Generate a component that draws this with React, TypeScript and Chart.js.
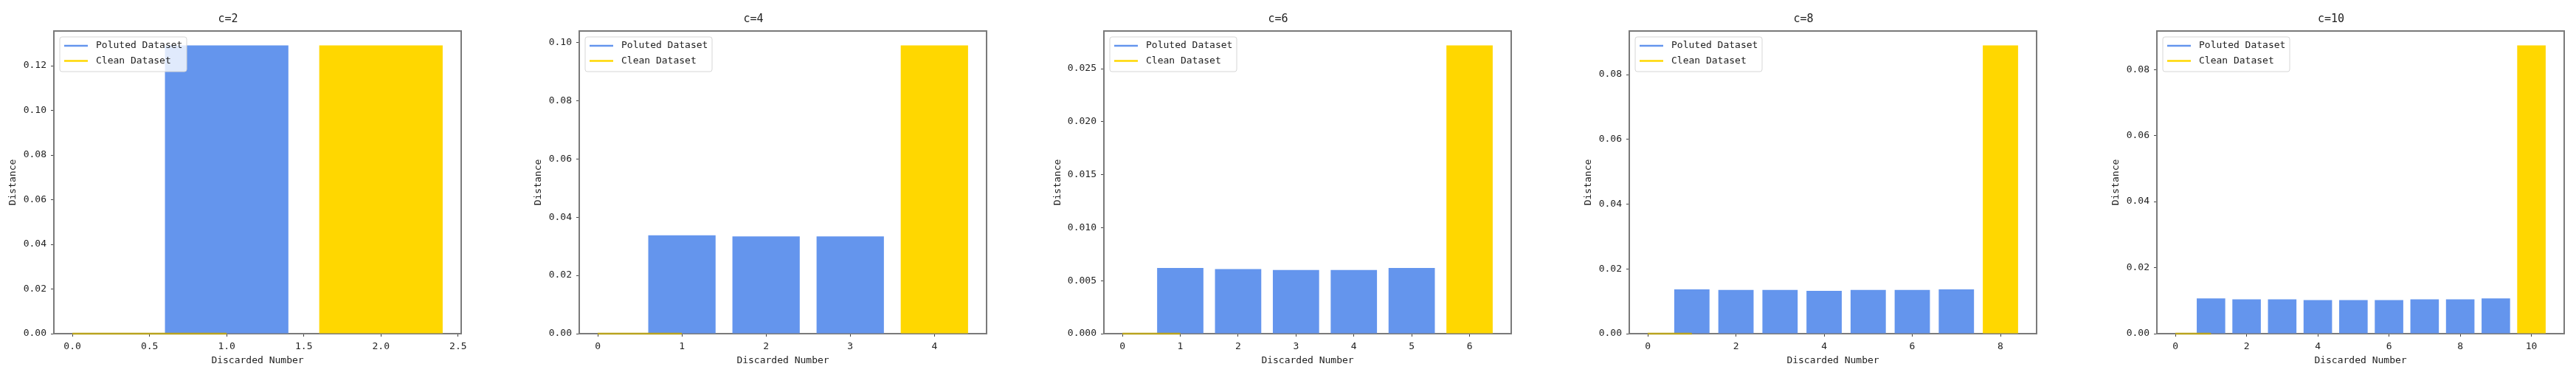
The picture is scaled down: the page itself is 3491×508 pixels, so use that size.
import React, { useEffect, useRef } from "react";
import { Chart, registerables } from "chart.js";

Chart.register(...registerables);

// ---------------- data ----------------
const TITLES = ["c=2", "c=4", "c=6", "c=8", "c=10"];
const C_VALUES = [2, 4, 6, 8, 10];

const POLLUTED_C2 = [0.1291];
const POLLUTED_C4 = [0.0338, 0.0334, 0.0334];
const POLLUTED_C6 = [0.0062, 0.0061, 0.006, 0.006, 0.0062];
const POLLUTED_C8 = [0.0137, 0.0135, 0.0135, 0.0132, 0.0135, 0.0135, 0.0137];
const POLLUTED_C10 = [0.0107, 0.0104, 0.0104, 0.0102, 0.0102, 0.0102, 0.0104, 0.0104, 0.0107];
const POLLUTED = [POLLUTED_C2, POLLUTED_C4, POLLUTED_C6, POLLUTED_C8, POLLUTED_C10];

const CLEAN = [0.1291, 0.099, 0.0272, 0.089, 0.0873];

const BASELINE_X = [0, 1];
const BASELINE_Y = [0, 0];

const X_TICK_STEPS = [0.5, 1, 1, 2, 2];
const X_DECIMALS = [1, 0, 0, 0, 0];
const Y_TICK_STEPS = [0.02, 0.02, 0.005, 0.02, 0.02];
const Y_DECIMALS = [2, 2, 3, 2, 2];

const LEGEND_LABELS = ["Poluted Dataset", "Clean Dataset"];
const X_TITLE = "Discarded Number";
const Y_TITLE = "Distance";

// ---------------- styles / layout ----------------
const BLUE = "#6495ED";
const GOLD = "#FFD700";
const OLIVE = "#b9a31f";
const TEXT = "#222222";
const FONT = "'DejaVu Sans Mono', monospace";
const BAR_WIDTH = 0.8;

const FRAME_LEFTS = [73, 785, 1496, 2208, 2923];
const Y_AXIS_W = 80;
const PLOT_W = 552;
const RIGHT_PAD = 15;
const Y_TITLE_PADS = [17, 17, 10, 17, 17];

const framePlugin = {
  id: "frame",
  beforeDatasetsDraw(chart: any) {
    const { ctx, chartArea } = chart;
    ctx.save();
    ctx.strokeStyle = "#7a7a7a";
    ctx.lineWidth = 2;
    ctx.strokeRect(chartArea.left, chartArea.top, chartArea.right - chartArea.left, chartArea.bottom - chartArea.top);
    ctx.restore();
  },
};

const legendPlugin = {
  id: "mplLegend",
  afterDraw(chart: any) {
    const { ctx, chartArea } = chart;
    const x = chartArea.left + 8;
    const y = chartArea.top + 8;
    const w = 172;
    const h = 47;
    const r = 3;
    ctx.save();
    ctx.beginPath();
    ctx.moveTo(x + r, y);
    ctx.lineTo(x + w - r, y);
    ctx.quadraticCurveTo(x + w, y, x + w, y + r);
    ctx.lineTo(x + w, y + h - r);
    ctx.quadraticCurveTo(x + w, y + h, x + w - r, y + h);
    ctx.lineTo(x + r, y + h);
    ctx.quadraticCurveTo(x, y + h, x, y + h - r);
    ctx.lineTo(x, y + r);
    ctx.quadraticCurveTo(x, y, x + r, y);
    ctx.closePath();
    ctx.fillStyle = "rgba(255,255,255,0.8)";
    ctx.fill();
    ctx.strokeStyle = "#d6d6d6";
    ctx.lineWidth = 1;
    ctx.stroke();
    const colors = [BLUE, GOLD];
    ctx.font = `13px ${FONT}`;
    ctx.textBaseline = "middle";
    ctx.textAlign = "left";
    LEGEND_LABELS.forEach((label, i) => {
      const ly = y + 12 + i * 20.5;
      ctx.strokeStyle = colors[i];
      ctx.lineWidth = 2.5;
      ctx.beginPath();
      ctx.moveTo(x + 6, ly);
      ctx.lineTo(x + 38, ly);
      ctx.stroke();
      ctx.fillStyle = TEXT;
      ctx.fillText(label, x + 49, ly);
    });
    ctx.restore();
  },
};

function SubChart({ idx }: { idx: number }) {
  const ref = useRef<HTMLCanvasElement | null>(null);
  useEffect(() => {
    if (!ref.current) return;
    const c = C_VALUES[idx];
    const polluted = POLLUTED[idx];
    const clean = CLEAN[idx];
    const extent = c + BAR_WIDTH / 2;
    const xMin = -0.05 * extent;
    const xMax = extent * 1.05;
    const yMax = Math.max(clean, ...polluted) * 1.05;
    const xStep = X_TICK_STEPS[idx];
    const barPct = BAR_WIDTH / Math.min(1, xStep);

    const chart = new Chart(ref.current, {
      type: "bar",
      data: {
        datasets: [
          {
            type: "line",
            label: LEGEND_LABELS[1] + " line",
            data: BASELINE_X.map((x, i) => ({ x, y: BASELINE_Y[i] })),
            borderColor: OLIVE,
            borderWidth: 2.5,
            pointRadius: 0,
            order: 0,
            clip: 3,
          } as any,
          {
            type: "bar",
            label: LEGEND_LABELS[0],
            data: polluted.map((v, i) => ({ x: i + 1, y: v })),
            backgroundColor: BLUE,
            borderWidth: 0,
            grouped: false,
            barPercentage: barPct,
            categoryPercentage: 1,
            order: 2,
          } as any,
          {
            type: "bar",
            label: LEGEND_LABELS[1],
            data: [{ x: c, y: clean }],
            backgroundColor: GOLD,
            borderWidth: 0,
            grouped: false,
            barPercentage: barPct,
            categoryPercentage: 1,
            order: 2,
          } as any,
        ],
      },
      options: {
        responsive: false,
        animation: false,
        layout: { autoPadding: false, padding: { left: 0, right: RIGHT_PAD, top: 0, bottom: 0 } } as any,
        plugins: {
          legend: { display: false },
          tooltip: { enabled: false },
          title: {
            display: true,
            text: TITLES[idx],
            color: TEXT,
            font: { family: FONT, size: 15, weight: "normal" },
            padding: { top: 17, bottom: 7 },
          },
        },
        scales: {
          x: {
            type: "linear",
            position: "bottom",
            offset: false,
            min: xMin,
            max: xMax,
            border: { display: false },
            grid: { offset: false, drawOnChartArea: false, drawTicks: true, tickLength: 4, color: "#444" },
            ticks: {
              stepSize: xStep,
              includeBounds: false,
              autoSkip: false,
              maxRotation: 0,
              padding: 6,
              color: TEXT,
              font: { family: FONT, size: 13 },
              callback: (v: any) => Number(v).toFixed(X_DECIMALS[idx]),
            } as any,
            title: {
              display: true,
              text: X_TITLE,
              color: TEXT,
              font: { family: FONT, size: 13 },
              padding: { top: 0, bottom: 12 },
            },
            afterFit: (s: any) => {
              s.height = 56;
            },
          },
          y: {
            type: "linear",
            min: 0,
            max: yMax,
            border: { display: false },
            grid: { drawOnChartArea: false, drawTicks: true, tickLength: 4, color: "#444" },
            ticks: {
              stepSize: Y_TICK_STEPS[idx],
              includeBounds: false,
              padding: 6,
              color: TEXT,
              font: { family: FONT, size: 13 },
              callback: (v: any) => Number(v).toFixed(Y_DECIMALS[idx]),
            } as any,
            title: {
              display: true,
              text: Y_TITLE,
              color: TEXT,
              font: { family: FONT, size: 13 },
              padding: { top: Y_TITLE_PADS[idx], bottom: 0 },
            },
            afterFit: (s: any) => {
              s.width = Y_AXIS_W;
            },
          },
        },
      } as any,
      plugins: [framePlugin, legendPlugin],
    });
    return () => chart.destroy();
  }, [idx]);

  const w = Y_AXIS_W + PLOT_W + RIGHT_PAD;
  return (
    <div style={{ position: "absolute", left: FRAME_LEFTS[idx] - Y_AXIS_W, top: 0, width: w, height: 508 }}>
      <canvas ref={ref} width={w} height={508} style={{ width: w, height: 508, display: "block" }} />
    </div>
  );
}

export default function App() {
  return (
    <div style={{ position: "absolute", left: 0, top: 0, width: 3491, height: 508, background: "#fff", overflow: "hidden" }}>
      {TITLES.map((_, i) => (
        <SubChart key={i} idx={i} />
      ))}
    </div>
  );
}
